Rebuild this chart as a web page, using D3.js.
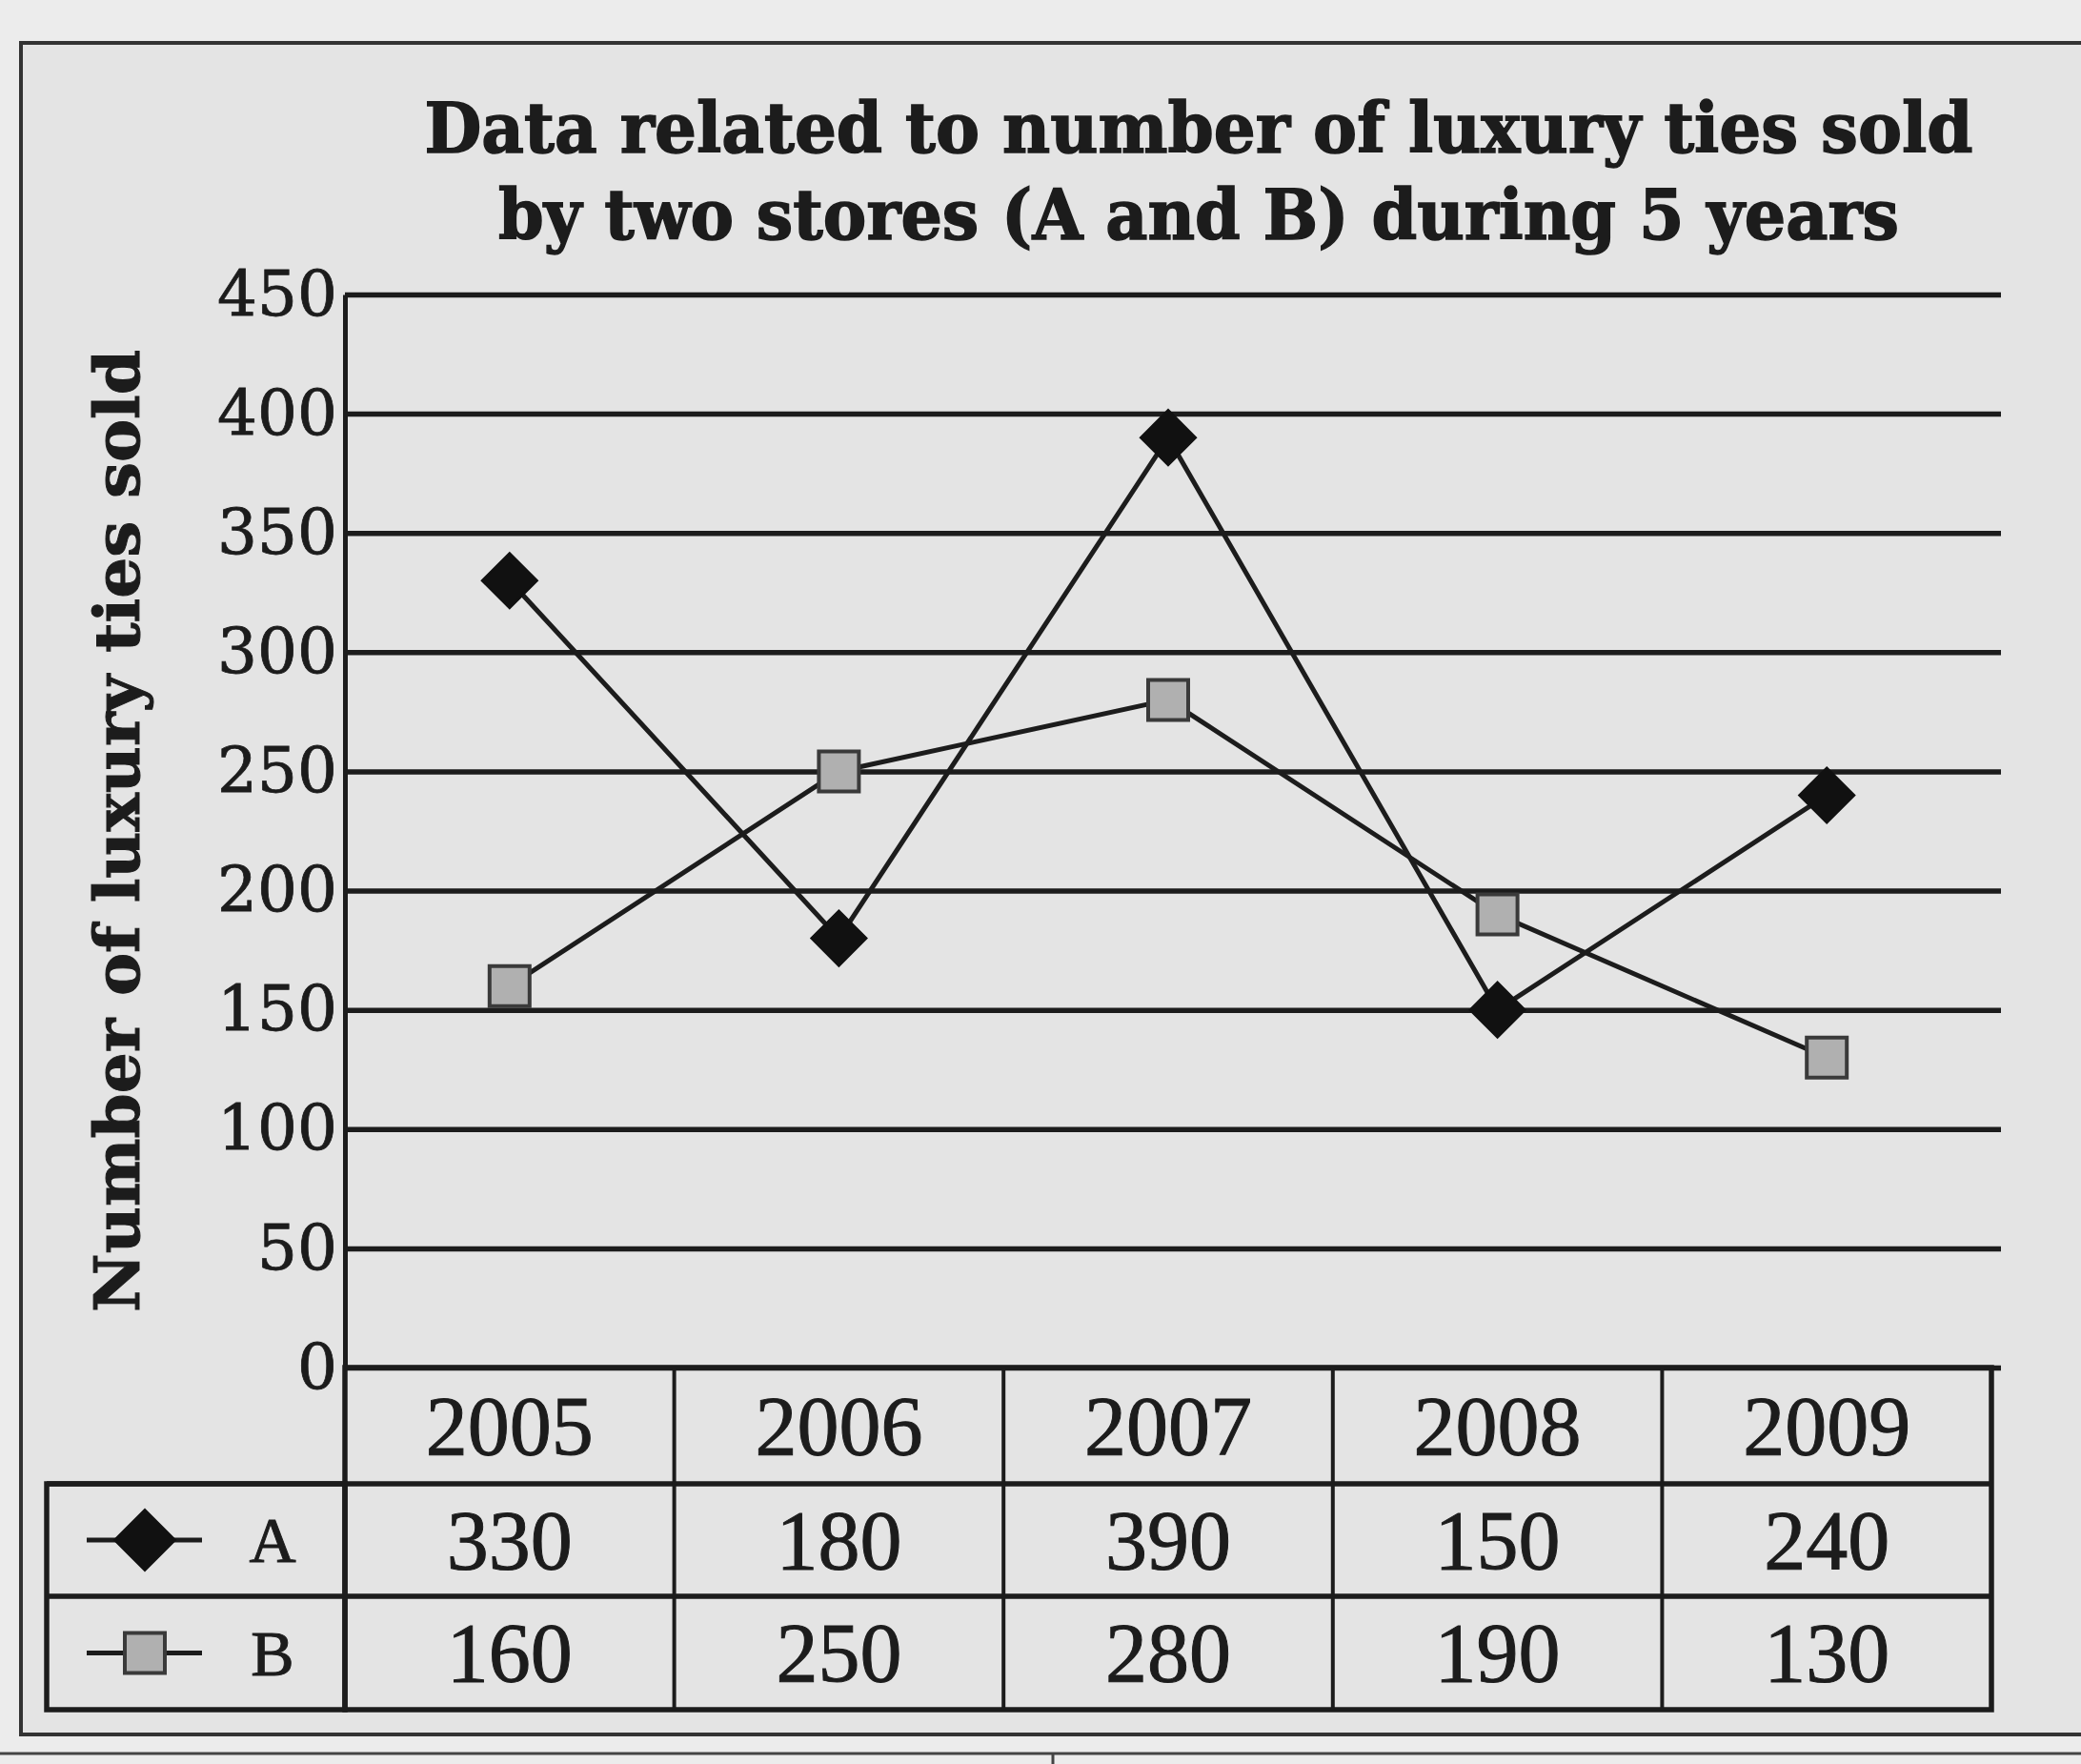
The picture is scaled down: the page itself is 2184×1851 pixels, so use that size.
<!DOCTYPE html>
<html>
<head>
<meta charset="utf-8">
<script src="https://cdn.jsdelivr.net/npm/d3@7"></script>
<style>
  html, body { margin: 0; padding: 0; background: #ececec; }
  svg { display: block; }
</style>
</head>
<body>
<div id="chart"></div>
<script>
// data
const years = ["2005", "2006", "2007", "2008", "2009"];
const storeA = [330, 180, 390, 150, 240];
const storeB = [160, 250, 280, 190, 130];
const yTicks = [0, 50, 100, 150, 200, 250, 300, 350, 400, 450];
const titleLines = ["Data related to number of luxury ties sold", "by two stores (A and B) during 5 years"];
const yTitle = "Number of luxury ties sold";

const W = 2184, H = 1851;
const plotLeft = 362, plotRight = 2100, tableRight = 2090;
const yTopPx = 309, yZeroPx = 1435;
const rowA = 1557, rowB = 1675, tableBottom = 1794;
const ink = "#1c1c1c";

const svg = d3.select("#chart").append("svg")
  .attr("width", W).attr("height", H);

// paper + outer frame
svg.append("rect").attr("width", W).attr("height", H).attr("fill", "#ececec");
svg.append("rect")
  .attr("x", 22).attr("y", 45).attr("width", W + 20).attr("height", 1775)
  .attr("fill", "#e4e4e4").attr("stroke", "#333").attr("stroke-width", 4);
svg.append("line").attr("x1", 0).attr("x2", W).attr("y1", 1840).attr("y2", 1840)
  .attr("stroke", "#444").attr("stroke-width", 3);
svg.append("line").attr("x1", 1105).attr("x2", 1105).attr("y1", 1840).attr("y2", H)
  .attr("stroke", "#444").attr("stroke-width", 3);

// title
svg.append("g").selectAll("text")
  .data(titleLines)
  .enter().append("text")
  .attr("x", 1258)
  .attr("y", (d, i) => i === 0 ? 160 : 251)
  .attr("text-anchor", "middle")
  .attr("textLength", (d, i) => i === 0 ? 1625 : 1470)
  .attr("lengthAdjust", "spacingAndGlyphs")
  .style("font-family", "'DejaVu Serif', serif")
  .style("font-weight", "bold")
  .style("font-size", "72px")
  .style("fill", ink)
  .style("stroke", ink)
  .style("stroke-width", 1.5)
  .text(d => d);

// scales
const xScale = d3.scaleBand().domain(years).range([plotLeft, tableRight]);
const yScale = d3.scaleLinear().domain([0, 450]).range([yZeroPx, yTopPx]);

// y axis with gridlines
const yAxis = svg.append("g")
  .attr("transform", `translate(${plotLeft},0)`)
  .call(d3.axisLeft(yScale)
    .tickValues(yTicks)
    .tickSizeInner(-(plotRight - plotLeft))
    .tickSizeOuter(0)
    .tickPadding(10));
yAxis.select(".domain").attr("stroke", ink).attr("stroke-width", 5);
yAxis.selectAll(".tick line").attr("stroke", ink).attr("stroke-width", 5.5);
yAxis.selectAll(".tick text")
  .attr("x", -8)
  .style("font-family", "'DejaVu Serif', serif")
  .style("font-size", "66px")
  .style("fill", ink)
  .style("stroke", ink)
  .style("stroke-width", 0.8);

// y title
svg.append("text")
  .attr("transform", `translate(146,${(yTopPx + yZeroPx) / 2}) rotate(-90)`)
  .attr("text-anchor", "middle")
  .attr("textLength", 1010)
  .attr("lengthAdjust", "spacingAndGlyphs")
  .style("font-family", "'DejaVu Serif', serif")
  .style("font-weight", "bold")
  .style("font-size", "66px")
  .style("fill", ink)
  .style("stroke", ink)
  .style("stroke-width", 1)
  .text(yTitle);

// series lines
const series = [
  { name: "A", values: storeA },
  { name: "B", values: storeB }
];
const line = d3.line()
  .x((d, i) => xScale(years[i]) + xScale.bandwidth() / 2)
  .y(d => yScale(d));

svg.append("g").selectAll("path")
  .data(series)
  .enter().append("path")
  .attr("d", d => line(d.values))
  .attr("fill", "none")
  .attr("stroke", ink)
  .attr("stroke-width", 5);

const diamond = d3.symbol().type(d3.symbolSquare).size(1700);
const square = d3.symbol().type(d3.symbolSquare).size(1764);

function drawMarker(g, name, k = 1) {
  if (name === "A") {
    g.append("path").attr("d", diamond.size(1700 * k * k)()).attr("transform", "rotate(45)")
      .attr("fill", "#111").attr("stroke", "#111").attr("stroke-width", 2);
  } else {
    g.append("path").attr("d", square.size(1764 * k * k)())
      .attr("fill", "#b0b0b0").attr("stroke", "#3a3a3a").attr("stroke-width", 4);
  }
}

series.forEach(s => {
  s.values.forEach((v, i) => {
    const g = svg.append("g")
      .attr("transform", `translate(${xScale(years[i]) + xScale.bandwidth() / 2},${yScale(v)})`);
    drawMarker(g, s.name);
  });
});

// data table under the chart
const table = svg.append("g");
const tStroke = 5.5;
// year header + value cells
table.append("rect")
  .attr("x", plotLeft).attr("y", yZeroPx)
  .attr("width", tableRight - plotLeft).attr("height", tableBottom - yZeroPx)
  .attr("fill", "none").attr("stroke", ink).attr("stroke-width", tStroke);
// legend column
table.append("rect")
  .attr("x", 49).attr("y", rowA)
  .attr("width", plotLeft - 49).attr("height", tableBottom - rowA)
  .attr("fill", "none").attr("stroke", ink).attr("stroke-width", tStroke);
[rowA, rowB].forEach(yy => {
  table.append("line").attr("x1", 49).attr("x2", tableRight)
    .attr("y1", yy).attr("y2", yy)
    .attr("stroke", ink).attr("stroke-width", tStroke);
});
table.selectAll(".vline")
  .data(years.slice(1))
  .enter().append("line")
  .attr("class", "vline")
  .attr("x1", d => xScale(d)).attr("x2", d => xScale(d))
  .attr("y1", yZeroPx).attr("y2", tableBottom)
  .attr("stroke", ink).attr("stroke-width", 4);

const cellFont = t => t
  .attr("text-anchor", "middle")
  .attr("dominant-baseline", "central")
  .style("font-family", "'Liberation Serif', serif")
  .style("font-size", "88px")
  .style("fill", ink)
  .style("stroke", ink)
  .style("stroke-width", 1);

table.selectAll(".year")
  .data(years)
  .enter().append("text")
  .attr("class", "year")
  .attr("x", d => xScale(d) + xScale.bandwidth() / 2)
  .attr("y", (yZeroPx + rowA) / 2)
  .call(cellFont)
  .text(d => d);

const rowCenters = [(rowA + rowB) / 2, (rowB + tableBottom) / 2];
series.forEach((s, r) => {
  table.selectAll(".val" + s.name)
    .data(s.values)
    .enter().append("text")
    .attr("class", "val" + s.name)
    .attr("x", (d, i) => xScale(years[i]) + xScale.bandwidth() / 2)
    .attr("y", rowCenters[r])
    .call(cellFont)
    .text(d => d);

  // legend key
  table.append("line")
    .attr("x1", 91).attr("x2", 212)
    .attr("y1", rowCenters[r]).attr("y2", rowCenters[r])
    .attr("stroke", ink).attr("stroke-width", 5);
  const g = table.append("g").attr("transform", `translate(152,${rowCenters[r]})`);
  drawMarker(g, s.name, s.name === "A" ? 1.1 : 1.0);
  table.append("text")
    .attr("x", 286).attr("y", rowCenters[r])
    .call(cellFont)
    .style("font-size", "68px")
    .text(s.name);
});
</script>
</body>
</html>
